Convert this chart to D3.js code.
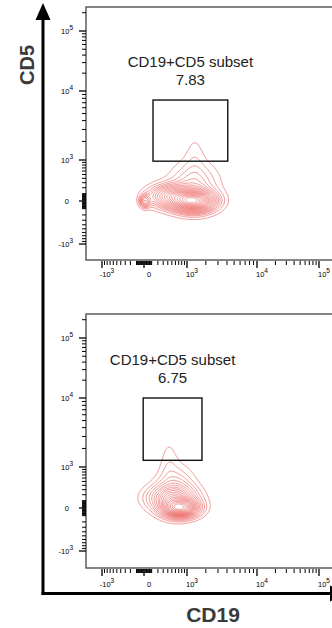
<!DOCTYPE html>
<html><head><meta charset="utf-8">
<script src="https://cdn.jsdelivr.net/npm/d3@7"></script>
<style>body{margin:0;background:#fff}svg{display:block}</style>
</head><body><svg id="c" width="332" height="628"></svg>
<script>
// ---- data ----
const gateLabel = ["CD19+CD5 subset", "CD19+CD5 subset"];
const gateFreq = ["7.83", "6.75"];
const gateCD19 = [[120, 4100], [-10, 1750]];
const gateCD5 = [[950, 7600], [1300, 10000]];
const majorTicks = [-1000, 0, 1000, 10000, 100000];
const tickBase = ["-10", "0", "10", "10", "10"];
const tickExp = ["3", "", "3", "4", "5"];
// population components (CD19 centre, CD5 centre, spread in display units, weight)
const topCD19 = [1300, 450, 10, 1300, 1350];
const topCD5 = [0, 66, 0, 250, 1200];
const topSpreadX = [0.38, 0.4, 0.1, 0.45, 0.2];
const topSpreadY = [0.2, 0.22, 0.12, 0.45, 0.5];
const topWeight = [1, 0.5, 0.35, 0.2, 0.05];
const botCD19 = [750, 500, 600, 430];
const botCD5 = [0, 143, 300, 1300];
const botSpreadX = [0.32, 0.45, 0.35, 0.18];
const botSpreadY = [0.17, 0.25, 0.45, 0.5];
const botWeight = [1, 0.45, 0.2, 0.05];
const contourLevels = [0.95, 0.9, 0.85, 0.8, 0.75, 0.7, 0.65, 0.6, 0.55, 0.5, 0.45, 0.4, 0.35, 0.3, 0.25, 0.2, 0.15, 0.1, 0.05];

// ---- layout ----
const svg = d3.select("#c");
const FONT = "'Liberation Sans', Arial, Helvetica, sans-serif";
const T = v => Math.sign(v) * Math.log1p(Math.abs(v) / 400);
const xLin = d3.scaleLinear().domain(majorTicks.map(T)).range([102, 144, 187, 257, 319]);
const X = v => xLin(T(v));
const panelDefs = [
  {top: 7, bottom: 260, yOff: 0, labY: 277, comps: [topCD19, topCD5, topSpreadX, topSpreadY, topWeight]},
  {top: 314, bottom: 568, yOff: 307, labY: 587, comps: [botCD19, botCD5, botSpreadX, botSpreadY, botWeight]}
];
const FL = 86, FR = 340;

// minor ticks
const minor = [];
for (const s of [-1, 1]) {
  for (let k = 1; k <= 9; k++) { minor.push(s * k * 10); minor.push(s * k * 100); }
}
for (const dec of [1000, 10000, 100000]) for (let k = 2; k <= 9; k++) minor.push(k * dec);
minor.sort((a, b) => a - b);

panelDefs.forEach((p, pi) => {
  const yLin = d3.scaleLinear().domain(majorTicks.map(T)).range([244, 201, 160, 91, 31].map(d => d + p.yOff));
  const Y = v => yLin(T(v));
  const g = svg.append("g");
  const clipId = "clip" + pi;
  g.append("clipPath").attr("id", clipId).append("rect")
    .attr("x", FL).attr("y", p.top).attr("width", FR - FL).attr("height", p.bottom - p.top);

  // density grid
  const nx = FR - FL, ny = p.bottom - p.top;
  const [cx, cy, sx, sy, w] = p.comps;
  const ux = cx.map(T), uy = cy.map(T);
  const vals = new Float64Array(nx * ny);
  for (let j = 0; j < ny; j++) {
    const v = yLin.invert(p.top + j + 0.5);
    for (let i = 0; i < nx; i++) {
      const u = xLin.invert(FL + i + 0.5);
      let d = 0;
      for (let k = 0; k < w.length; k++) {
        const a = (u - ux[k]) / sx[k], b = (v - uy[k]) / sy[k];
        d += w[k] * Math.exp(-0.5 * (a * a + b * b));
      }
      vals[j * nx + i] = d;
    }
  }
  const sorted = Array.from(vals).sort((a, b) => b - a);
  const total = d3.sum(sorted);
  const th = [];
  let cum = 0, li = 0;
  const lv = contourLevels.slice().sort((a, b) => a - b);
  for (let i = 0; i < sorted.length && li < lv.length; i++) {
    cum += sorted[i];
    while (li < lv.length && cum >= lv[li] * total) { th.push(sorted[i]); li++; }
  }
  const contours = d3.contours().size([nx, ny]).thresholds(th)(vals);
  const path = d3.geoPath(d3.geoIdentity().scale(1).translate([FL, p.top]));
  g.append("g").attr("clip-path", `url(#${clipId})`)
    .selectAll("path").data(contours).join("path")
    .attr("d", path).attr("fill", "none")
    .attr("stroke", "#e53935").attr("stroke-opacity", 0.75).attr("stroke-width", 0.7);

  // frame
  g.append("rect").attr("x", FL).attr("y", p.top).attr("width", FR - FL).attr("height", p.bottom - p.top)
    .attr("fill", "none").attr("stroke", "#444").attr("stroke-width", 1.3);

  // y ticks
  const yt = g.append("g").attr("stroke", "#000").attr("stroke-width", 1);
  minor.filter(v => Y(v) > p.top && Y(v) < p.bottom).forEach(v => {
    yt.append("line").attr("x1", FL - 4).attr("x2", FL).attr("y1", Y(v)).attr("y2", Y(v));
  });
  majorTicks.forEach(v => {
    yt.append("line").attr("x1", FL - 7).attr("x2", FL).attr("y1", Y(v)).attr("y2", Y(v)).attr("stroke-width", 1.3);
  });
  // x ticks
  const xt = g.append("g").attr("stroke", "#000").attr("stroke-width", 1);
  minor.filter(v => X(v) > FL && X(v) < 332).forEach(v => {
    xt.append("line").attr("x1", X(v)).attr("x2", X(v)).attr("y1", p.bottom + 1).attr("y2", p.bottom + 5);
  });
  majorTicks.forEach(v => {
    xt.append("line").attr("x1", X(v)).attr("x2", X(v)).attr("y1", p.bottom + 1).attr("y2", p.bottom + 8).attr("stroke-width", 1.3);
  });

  // tick labels
  majorTicks.forEach((v, i) => {
    const ty = g.append("text").attr("font-family", FONT).attr("font-size", 7.5).attr("fill", "#000")
      .attr("text-anchor", "end").attr("x", tickExp[i] ? 73 : 69).attr("y", Y(v) + 3);
    ty.append("tspan").text(tickBase[i]);
    if (tickExp[i]) ty.append("tspan").attr("font-size", 6.5).attr("dy", -4).text(tickExp[i]);
    const tx = g.append("text").attr("font-family", FONT).attr("font-size", 7.5).attr("fill", "#000")
      .attr("text-anchor", "middle").attr("x", X(v) + 5).attr("y", p.labY);
    tx.append("tspan").text(tickBase[i]);
    if (tickExp[i]) tx.append("tspan").attr("font-size", 6.5).attr("dy", -4).text(tickExp[i]);
  });

  // gate
  const gx0 = X(gateCD19[pi][0]), gx1 = X(gateCD19[pi][1]);
  const gy0 = Y(gateCD5[pi][1]), gy1 = Y(gateCD5[pi][0]);
  g.append("rect").attr("x", gx0).attr("y", gy0).attr("width", gx1 - gx0).attr("height", gy1 - gy0)
    .attr("fill", "none").attr("stroke", "#111").attr("stroke-width", 1.4);
  const cxT = (gx0 + gx1) / 2;
  g.append("text").attr("x", cxT).attr("y", gy0 - 33).attr("text-anchor", "middle")
    .attr("font-family", FONT).attr("font-size", 15).attr("fill", "#222").text(gateLabel[pi]);
  g.append("text").attr("x", cxT).attr("y", gy0 - 15).attr("text-anchor", "middle")
    .attr("font-family", FONT).attr("font-size", 15).attr("fill", "#222").text(gateFreq[pi]);
});

// big axes
svg.append("line").attr("x1", 43).attr("x2", 43).attr("y1", 16).attr("y2", 595)
  .attr("stroke", "#000").attr("stroke-width", 3);
svg.append("line").attr("x1", 41.5).attr("x2", 332).attr("y1", 593.5).attr("y2", 593.5)
  .attr("stroke", "#000").attr("stroke-width", 3);
svg.append("path").attr("d", "M43,3 L35.5,20 L50.5,20 Z").attr("fill", "#000");
svg.append("path").attr("d", "M346,593.5 L330,585.5 L330,601.5 Z").attr("fill", "#000");
svg.append("text").attr("transform", "translate(34,65) rotate(-90)").attr("text-anchor", "middle")
  .attr("font-family", FONT).attr("font-weight", "bold").attr("font-size", 20).attr("fill", "#3a3a3a").text("CD5");
svg.append("text").attr("x", 213).attr("y", 622).attr("text-anchor", "middle")
  .attr("font-family", FONT).attr("font-weight", "bold").attr("font-size", 21).attr("fill", "#3a3a3a").text("CD19");
</script></body></html>
